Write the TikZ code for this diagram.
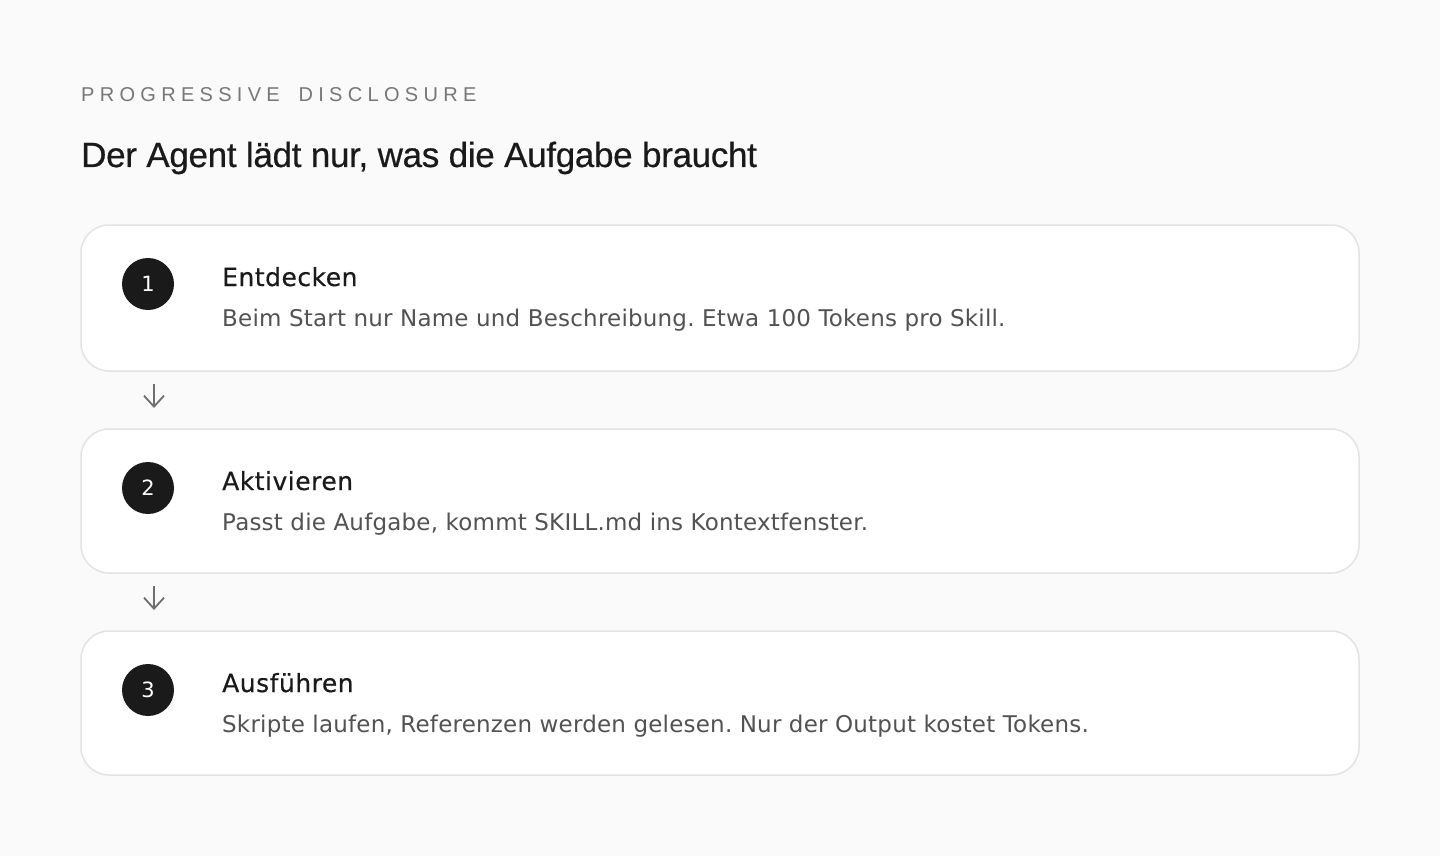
\documentclass[tikz,border=0pt]{standalone}
\usepackage{fontspec}
\setmainfont{Liberation Sans}
\newfontfamily\bodyfont{DejaVu Sans}
\frenchspacing
\usetikzlibrary{arrows.meta}
\definecolor{bg}{HTML}{FAFAFA}
\definecolor{boxline}{HTML}{E3E3E3}
\definecolor{ink}{HTML}{1A1A1A}
\definecolor{desc}{HTML}{525252}
\definecolor{kicker}{HTML}{777777}
\definecolor{arrowc}{HTML}{6E6E6E}
\tikzset{
  card/.style={draw=boxline, line width=1.5pt, fill=white, rounded corners=28pt},
  numdot/.style={circle, fill=ink, minimum size=52pt, inner sep=0pt, text=white, font=\bodyfont\fontsize{21pt}{26pt}\selectfont},
  steptitle/.style={anchor=base west, inner sep=0pt, text=ink, font=\bodyfont\fontsize{25pt}{30pt}\selectfont\addfontfeatures{LetterSpace=2,FakeBold=0.4}},
  stepdesc/.style={anchor=base west, inner sep=0pt, text=desc, font=\bodyfont\fontsize{23pt}{26pt}\selectfont\addfontfeatures{LetterSpace=0.9}},
  flowarrow/.style={draw=arrowc, line width=1.8pt, -{Straight Barb[length=11pt, width=20pt, line width=1.8pt]}},
}
\begin{document}
\begin{tikzpicture}[x=1pt, y=-1pt]
\fill[bg] (0,0) rectangle (1440,856);
\useasboundingbox (0,0) rectangle (1440,856);

\node[anchor=base west, inner sep=0pt, text=kicker, font=\fontsize{20pt}{24pt}\selectfont\addfontfeatures{LetterSpace=26.5}] (kick) at (81,102) {PROGRESSIVE\hspace{8pt} DISCLOSURE};
\node[anchor=base west, inner sep=0pt, text=ink, font=\fontsize{35pt}{40pt}\selectfont\addfontfeatures{LetterSpace=-0.9,FakeBold=0.5}] (head) at (81,167) {Der Agent lädt nur, was die Aufgabe braucht};

% cards
\path[card] (81,225) rectangle (1359,371);
\path[card] (81,429) rectangle (1359,573);
\path[card] (81,631) rectangle (1359,775);

\node[numdot] (n1) at (148,284) {1};
\node[steptitle] (t1) at (222,286) {Entdecken};
\node[stepdesc] (d1) at (222,326) {Beim Start nur Name und Beschreibung. Etwa 100 Tokens pro Skill.};

\node[numdot] (n2) at (148,488) {2};
\node[steptitle] (t2) at (222,490) {Aktivieren};
\node[stepdesc] (d2) at (222,530) {Passt die Aufgabe, kommt SKILL.md ins Kontextfenster.};

\node[numdot] (n3) at (148,690) {3};
\node[steptitle] (t3) at (222,692) {Ausführen};
\node[stepdesc] (d3) at (222,732) {Skripte laufen, Referenzen werden gelesen. Nur der Output kostet Tokens.};

\coordinate (a1s) at (154,384);
\coordinate (a1e) at (154,408);
\coordinate (a2s) at (154,586);
\coordinate (a2e) at (154,610);
\draw[flowarrow] (a1s) -- (a1e);
\draw[flowarrow] (a2s) -- (a2e);
\end{tikzpicture}
\end{document}
